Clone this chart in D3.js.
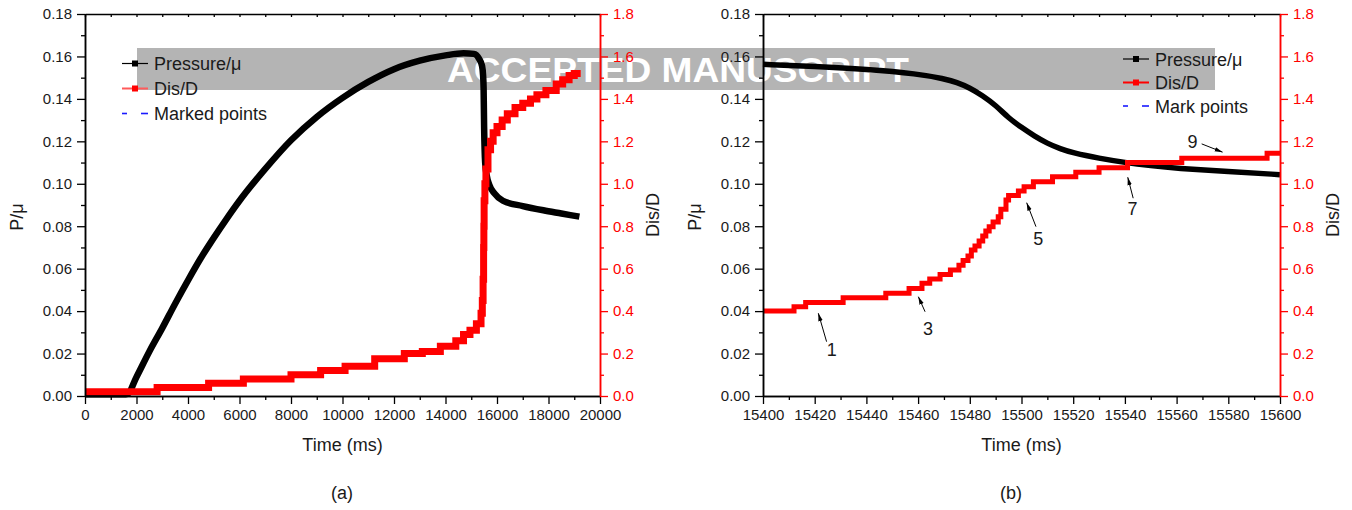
<!DOCTYPE html>
<html>
<head>
<meta charset="utf-8">
<script src="https://cdn.jsdelivr.net/npm/d3@7"></script>
<style>
  body { margin: 0; background: #fff; }
  svg { font-family: "Liberation Sans", Arial, sans-serif; }
</style>
</head>
<body>
<svg id="chart" width="1352" height="510"></svg>
<script>
// ---- panel (a): whole test ----
var pressureTimeA = [0, 1500, 1650, 2000, 2500, 3000, 3500, 4000, 4500, 5000, 5500, 6000, 7000, 8000, 9000, 10000, 11000, 12000, 13000, 14000, 14700, 15100, 15300, 15420, 15460, 15480, 15500, 15540, 15600, 15700, 15900, 16230, 17000, 17800, 18500, 19200];
var pressureA = [0.0008, 0.0008, 0.001, 0.009, 0.021, 0.032, 0.0435, 0.0545, 0.065, 0.0745, 0.0835, 0.092, 0.107, 0.1205, 0.1315, 0.1405, 0.148, 0.154, 0.158, 0.1605, 0.1615, 0.1612, 0.159, 0.1555, 0.151, 0.145, 0.1265, 0.110, 0.104, 0.0995, 0.0955, 0.092, 0.0895, 0.0875, 0.086, 0.0845];
var disTimeA = [0, 2800, 4800, 6150, 8000, 9150, 10100, 11250, 12400, 13100, 13800, 14400, 14700, 14950, 15200, 15380, 15430, 15460, 15480, 15490, 15500, 15530, 15570, 15650, 15750, 15850, 16000, 16200, 16400, 16700, 17000, 17300, 17550, 17900, 18300, 18550, 18800, 19000, 19250];
var disA = [0.02, 0.04, 0.06, 0.08, 0.10, 0.12, 0.14, 0.175, 0.20, 0.21, 0.235, 0.26, 0.29, 0.31, 0.34, 0.39, 0.45, 0.55, 0.70, 0.80, 0.92, 1.00, 1.07, 1.16, 1.20, 1.24, 1.27, 1.30, 1.33, 1.36, 1.38, 1.40, 1.42, 1.44, 1.47, 1.49, 1.51, 1.52, 1.52];

// ---- panel (b): zoom around the failure ----
var pressureTimeB = [15400, 15420, 15440, 15460, 15470, 15475, 15480, 15485, 15490, 15495, 15500, 15505, 15510, 15515, 15520, 15530, 15540, 15550, 15560, 15580, 15600];
var pressureB = [0.1563, 0.1553, 0.154, 0.1518, 0.1495, 0.1478, 0.1452, 0.1415, 0.137, 0.131, 0.1265, 0.1225, 0.119, 0.1165, 0.1145, 0.112, 0.110, 0.1085, 0.1073, 0.1058, 0.1043];
var disTimeB = [15400, 15412, 15416.5, 15431, 15447.5, 15456.5, 15461.5, 15464.5, 15468.5, 15472.5, 15475.8, 15477.4, 15479.3, 15480.6, 15482, 15483.6, 15485, 15486.2, 15487.5, 15489, 15491, 15492, 15494, 15495, 15498.8, 15501, 15504.6, 15512, 15521, 15530, 15541, 15562, 15595, 15600];
var disB = [0.40, 0.42, 0.44, 0.463, 0.484, 0.507, 0.531, 0.551, 0.573, 0.594, 0.616, 0.638, 0.66, 0.688, 0.707, 0.73, 0.754, 0.777, 0.798, 0.82, 0.845, 0.88, 0.923, 0.945, 0.966, 0.986, 1.01, 1.033, 1.054, 1.076, 1.10, 1.12, 1.144, 1.144];

// marked points in (b): label, text position, arrow tail, arrow head (time, Dis/D)
var markLabels = ["1", "3", "5", "7", "9"];
var markText = [[15426.6, 0.217], [15463.8, 0.319], [15506.5, 0.74], [15542.9, 0.884], [15566.2, 1.198]];
var markTail = [[15424.6, 0.256], [15462.7, 0.397], [15505.6, 0.798], [15543.2, 0.932], [15569.7, 1.188]];
var markHead = [[15421.4, 0.39], [15460.1, 0.468], [15502.0, 0.911], [15541.1, 1.031], [15577.8, 1.149]];

// ticks
var leftTicks = [0, 0.02, 0.04, 0.06, 0.08, 0.10, 0.12, 0.14, 0.16, 0.18];
var rightTicks = [0, 0.2, 0.4, 0.6, 0.8, 1.0, 1.2, 1.4, 1.6, 1.8];
var xTicksA = [0, 2000, 4000, 6000, 8000, 10000, 12000, 14000, 16000, 18000, 20000];
var xTicksB = [15400, 15420, 15440, 15460, 15480, 15500, 15520, 15540, 15560, 15580, 15600];

var legendA = ["Pressure/\u03bc", "Dis/D", "Marked points"];
var legendB = ["Pressure/\u03bc", "Dis/D", "Mark points"];

var svg = d3.select("#chart");
var font = "Liberation Sans, Arial, sans-serif";

// watermark band (behind the plots)
svg.append("rect")
    .attr("x", 137).attr("y", 48)
    .attr("width", 1078).attr("height", 42)
    .attr("fill", "#b4b4b4");
svg.append("text")
    .attr("x", 447).attr("y", 82)
    .attr("textLength", 462)
    .attr("lengthAdjust", "spacingAndGlyphs")
    .attr("font-size", 35).attr("font-weight", "bold")
    .attr("fill", "#fff")
    .text("ACCEPTED MANUSCRIPT");

// arrow head
svg.append("defs").append("marker")
    .attr("id", "arrow")
    .attr("viewBox", "0 0 10 10")
    .attr("refX", 10).attr("refY", 5)
    .attr("markerWidth", 8).attr("markerHeight", 8)
    .attr("markerUnits", "userSpaceOnUse")
    .attr("orient", "auto")
  .append("path")
    .attr("d", "M0,2.2 L10,5 L0,7.8 Z")
    .attr("fill", "#000");

function styleAxis(g, color) {
  g.attr("color", color)
   .attr("font-size", 15)
   .attr("font-family", font);
  g.select(".domain").attr("stroke-width", 1.5);
  g.selectAll(".tick line").attr("stroke-width", 1.3);
}

function drawPanel(p) {
  var x = d3.scaleLinear().domain(p.xDomain).range([p.left, p.right]);
  var y = d3.scaleLinear().domain([0, 0.18]).range([p.bottom, p.top]);
  var yR = d3.scaleLinear().domain([0, 1.8]).range([p.bottom, p.top]);

  var g = svg.append("g");

  // pressure (black)
  var pts = p.pT.map(function(t, i) { return [t, p.pV[i]]; });
  g.append("path")
      .datum(pts)
      .attr("fill", "none")
      .attr("stroke", "#000")
      .attr("stroke-width", p.pw)
      .attr("d", d3.line()
          .x(function(d) { return x(d[0]); })
          .y(function(d) { return y(d[1]); })
          .curve(p.pCurve));

  // Dis/D (red staircase)
  var dpts = p.dT.map(function(t, i) { return [t, p.dV[i]]; });
  g.append("path")
      .datum(dpts)
      .attr("fill", "none")
      .attr("stroke", "#ff0000")
      .attr("stroke-width", p.dw)
      .attr("stroke-linejoin", "miter")
      .attr("d", d3.line()
          .x(function(d) { return x(d[0]); })
          .y(function(d) { return yR(d[1]); })
          .curve(d3.curveStepAfter));

  // bottom axis
  var xMinor = d3.range(p.xDomain[0] + p.xStep / 2, p.xDomain[1], p.xStep);
  var gb = g.append("g").attr("transform", "translate(0," + p.bottom + ")");
  gb.call(d3.axisBottom(x).tickValues(xMinor).tickSize(4).tickSizeOuter(0).tickFormat(""));
  styleAxis(gb, "#000");
  var gb2 = g.append("g").attr("transform", "translate(0," + p.bottom + ")");
  gb2.call(d3.axisBottom(x).tickValues(p.xTicks).tickSize(8).tickSizeOuter(0).tickPadding(5)
      .tickFormat(d3.format("d")));
  styleAxis(gb2, "#000");
  gb2.selectAll("text").attr("fill", "#1a1a1a");

  // top axis: small inward ticks
  var xTop = d3.range(p.xDomain[0], p.xDomain[1] + 1, p.xStep / 2);
  var gt = g.append("g").attr("transform", "translate(0," + p.top + ")");
  gt.call(d3.axisTop(x).tickValues(xTop).tickSize(-3).tickSizeOuter(0).tickFormat(""));
  styleAxis(gt, "#000");

  // left axis
  var gl = g.append("g").attr("transform", "translate(" + p.left + ",0)");
  gl.call(d3.axisLeft(y).tickValues(d3.range(0.01, 0.18, 0.02)).tickSize(4).tickSizeOuter(0).tickFormat(""));
  styleAxis(gl, "#000");
  var gl2 = g.append("g").attr("transform", "translate(" + p.left + ",0)");
  gl2.call(d3.axisLeft(y).tickValues(leftTicks).tickSize(8).tickSizeOuter(0).tickPadding(5)
      .tickFormat(d3.format(".2f")));
  styleAxis(gl2, "#000");
  gl2.selectAll("text").attr("fill", "#1a1a1a");

  // right axis (red)
  var gr = g.append("g").attr("transform", "translate(" + p.right + ",0)");
  gr.call(d3.axisRight(yR).tickValues(d3.range(0.1, 1.8, 0.2)).tickSize(4).tickSizeOuter(0).tickFormat(""));
  styleAxis(gr, "#ff0000");
  var gr2 = g.append("g").attr("transform", "translate(" + p.right + ",0)");
  gr2.call(d3.axisRight(yR).tickValues(rightTicks).tickSize(8).tickSizeOuter(0).tickPadding(5)
      .tickFormat(d3.format(".1f")));
  styleAxis(gr2, "#ff0000");

  // axis titles
  var cx = (p.left + p.right) / 2;
  g.append("text")
      .attr("x", cx).attr("y", 451)
      .attr("text-anchor", "middle")
      .attr("font-size", 18).attr("fill", "#1a1a1a")
      .text("Time (ms)");
  g.append("text")
      .attr("transform", "translate(" + (p.left - 62) + ",217) rotate(-90)")
      .attr("text-anchor", "middle")
      .attr("font-size", 18).attr("fill", "#1a1a1a")
      .text("P/\u03bc");
  g.append("text")
      .attr("transform", "translate(" + (p.right + 59) + ",215) rotate(-90)")
      .attr("text-anchor", "middle")
      .attr("font-size", 18).attr("fill", "#1a1a1a")
      .text("Dis/D");
  g.append("text")
      .attr("x", p.capX).attr("y", 499)
      .attr("text-anchor", "middle")
      .attr("font-size", 18).attr("fill", "#1a1a1a")
      .text(p.caption);

  // legend
  var lg = g.append("g").attr("transform", "translate(" + p.legX + "," + p.legY + ")");
  var rows = [0, p.legGap, p.legGap * 2];
  lg.append("line").attr("x1", 0).attr("x2", 26).attr("y1", rows[0]).attr("y2", rows[0])
      .attr("stroke", "#000").attr("stroke-width", 1.2);
  lg.append("rect").attr("x", 10).attr("y", rows[0] - 3).attr("width", 6).attr("height", 6).attr("fill", "#000");
  lg.append("line").attr("x1", 0).attr("x2", 26).attr("y1", rows[1]).attr("y2", rows[1])
      .attr("stroke", p.legRed).attr("stroke-width", 2);
  lg.append("rect").attr("x", 10).attr("y", rows[1] - 3).attr("width", 6).attr("height", 6).attr("fill", "#ff0000");
  lg.append("line").attr("x1", 0).attr("x2", 5).attr("y1", rows[2]).attr("y2", rows[2])
      .attr("stroke", "#1a1aff").attr("stroke-width", 1.6);
  lg.append("line").attr("x1", 19).attr("x2", 26).attr("y1", rows[2]).attr("y2", rows[2])
      .attr("stroke", "#1a1aff").attr("stroke-width", 1.6);
  lg.selectAll("text.leg")
      .data(p.legend)
    .enter().append("text")
      .attr("class", "leg")
      .attr("x", 32)
      .attr("y", function(d, i) { return rows[i] + 6.5; })
      .attr("font-size", 18).attr("fill", "#1a1a1a")
      .text(function(d) { return d; });

  return {x: x, yR: yR, g: g};
}

drawPanel({
  left: 85, right: 600, top: 14, bottom: 396,
  xDomain: [0, 20000], xStep: 2000, xTicks: xTicksA,
  pT: pressureTimeA, pV: pressureA, dT: disTimeA, dV: disA,
  pw: 6.5, dw: 7, pCurve: d3.curveMonotoneX,
  legend: legendA, legX: 122, legY: 63.5, legGap: 25, legRed: "#ff5a5a",
  caption: "(a)", capX: 342
});

var pb = drawPanel({
  left: 763, right: 1280, top: 14, bottom: 396,
  xDomain: [15400, 15600], xStep: 20, xTicks: xTicksB,
  pT: pressureTimeB, pV: pressureB, dT: disTimeB, dV: disB,
  pw: 5.5, dw: 5, pCurve: d3.curveBasis,
  legend: legendB, legX: 1123, legY: 59, legGap: 23.5, legRed: "#ff0000",
  caption: "(b)", capX: 1011
});

// marked point arrows in (b)
markLabels.forEach(function(lab, i) {
  pb.g.append("line")
      .attr("x1", pb.x(markTail[i][0])).attr("y1", pb.yR(markTail[i][1]))
      .attr("x2", pb.x(markHead[i][0])).attr("y2", pb.yR(markHead[i][1]))
      .attr("stroke", "#000").attr("stroke-width", 1)
      .attr("marker-end", "url(#arrow)");
  pb.g.append("text")
      .attr("x", pb.x(markText[i][0])).attr("y", pb.yR(markText[i][1]))
      .attr("dy", "0.35em")
      .attr("text-anchor", "middle")
      .attr("font-size", 18).attr("fill", "#1a1a1a")
      .text(lab);
});
</script>
</body>
</html>
